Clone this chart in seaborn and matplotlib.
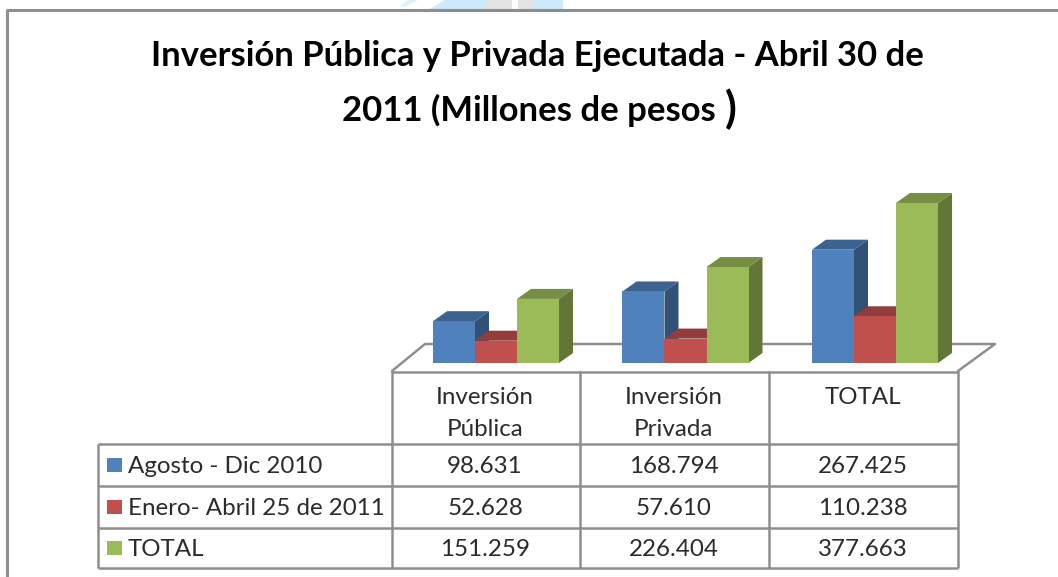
import numpy as np
import pandas as pd
import seaborn as sns
import matplotlib.pyplot as plt
from matplotlib.colors import to_rgb
from matplotlib.patches import Polygon, Rectangle

conceptos = ["Inversión Pública", "Inversión Privada", "TOTAL"]
encabezados = [["Inversión", "Pública"], ["Inversión", "Privada"], ["TOTAL"]]
periodos = ["Agosto - Dic 2010", "Enero- Abril 25 de 2011", "TOTAL"]
agosto_dic = [98.631, 168.794, 267.425]
enero_abril = [52.628, 57.610, 110.238]
total = [151.259, 226.404, 377.663]
colores = ["#4F81BD", "#C0504D", "#9BBB59"]

W, H = 1058, 577
LINEA = "#8E8E8E"
TEXTO = "#2B2B2B"

sns.set_theme(style="white")
plt.rcParams['font.family'] = ['Lato', 'DejaVu Sans']

df = pd.DataFrame({
    "concepto": conceptos * 3,
    "periodo": np.repeat(periodos, 3),
    "valor": agosto_dic + enero_abril + total,
})

fig = plt.figure(figsize=(W / 100, H / 100), dpi=100, facecolor="white")

# Layer in pixel coordinates for frame, floor, table and texts
fondo = fig.add_axes([0, 0, 1, 1], zorder=0)
fondo.set_xlim(0, W)
fondo.set_ylim(H, 0)
fondo.axis("off")

# Scrap of the page picture above the frame
fondo.add_patch(Polygon([(430, 9), (445, 0), (563, 0), (563, 9)], color="#CFE9FC", lw=0))
fondo.add_patch(Rectangle((485, 0), 27, 9, color="#E4E4E4", lw=0))
fondo.add_patch(Rectangle((518, 0), 16, 9, color="#E4E4E4", lw=0))
fondo.add_patch(Rectangle((512, 0), 6, 9, color="white", lw=0))
fondo.add_patch(Polygon([(400, 6), (408, 0), (418, 0), (404, 7)], color="#DDF0FD", lw=0))

lw = 1.8
fondo.hlines(10, 6, W, color=LINEA, lw=2.2)
fondo.vlines(7, 10, H, color=LINEA, lw=2.2)

# Floor of the 3D plot
fondo.plot([392, 425, 995, 958], [371, 344, 344, 371], color=LINEA, lw=lw)

# Table grid
col_x = [392, 580, 769, 958]
fila_y = [444, 486, 528, 568]
fondo.hlines(371.5, 392, 958, color=LINEA, lw=lw)
fondo.hlines(fila_y, 98, 958, color=LINEA, lw=lw)
fondo.vlines(col_x, 371, 568, color=LINEA, lw=lw)
fondo.vlines(98, 444, 568, color=LINEA, lw=lw)

FS = 17.4
filas = [agosto_dic, enero_abril, total]
centros = [465, 507, 548]
for i, nombre in enumerate(periodos):
    fondo.add_patch(Rectangle((107, centros[i] - 7.5), 14.5, 14.5, color=colores[i], lw=0))
    fondo.text(128, centros[i] + 1.5, nombre, fontsize=FS, color=TEXTO, va="center", ha="left")
    for j, v in enumerate(filas[i]):
        fondo.text((col_x[j] + col_x[j + 1]) / 2 - 1, centros[i] + 1.5, f"{v:.3f}", fontsize=FS,
                   color=TEXTO, va="center", ha="center")

for j, lineas in enumerate(encabezados):
    for k, t in enumerate(lineas):
        fondo.text((col_x[j] + col_x[j + 1]) / 2 - 1, 398 + k * 32, t, fontsize=FS,
                   color=TEXTO, va="center", ha="center")

# Title
fondo.text(537.5, 56, "Inversión Pública y Privada Ejecutada - Abril 30 de", fontsize=24.9,
           fontweight="bold", color="black", va="center", ha="center")
fondo.text(716, 110, "2011 (Millones de pesos", fontsize=24.9,
           fontweight="bold", color="black", va="center", ha="right")
fondo.text(731, 109, ")", fontsize=31, fontweight="bold", color="black", va="center", ha="center")

# Bars: the axes are placed so that the floor sits at y=363 px
ax = fig.add_axes([401.25 / W, (H - 363) / H, 568.5 / W, 169.5 / H], zorder=1)
sns.barplot(data=df, x="concepto", y="valor", hue="periodo", hue_order=periodos,
            palette=colores, saturation=1, width=0.665, gap=0, legend=False, ax=ax)
ax.set_xlim(-0.5, 2.5)
ax.set_ylim(0, 400)
ax.axis("off")

# 3D look: top and side faces built from each bar seaborn drew
DX, DY = 14, 10
barras = sorted([p for p in ax.patches if p.get_height() > 0], key=lambda p: p.get_x())
dx = DX * (3 / 568.5)
dy = DY * (400 / 169.5)
for k, p in enumerate(barras):
    x0, y0 = p.get_x(), p.get_y()
    x1, y1 = x0 + p.get_width(), y0 + p.get_height()
    base = np.array(to_rgb(p.get_facecolor()))
    ax.add_patch(Polygon([(x1, y0), (x1 + dx, y0 + dy), (x1 + dx, y1 + dy), (x1, y1)],
                         facecolor=base * 0.63, lw=0, clip_on=False, zorder=3 * k + 1))
    ax.add_patch(Polygon([(x0, y1), (x0 + dx, y1 + dy), (x1 + dx, y1 + dy), (x1, y1)],
                         facecolor=base * 0.76, lw=0, clip_on=False, zorder=3 * k + 2))
    p.set_zorder(3 * k + 3)
    p.set_linewidth(0)

fig.savefig("out.png", dpi=100)
